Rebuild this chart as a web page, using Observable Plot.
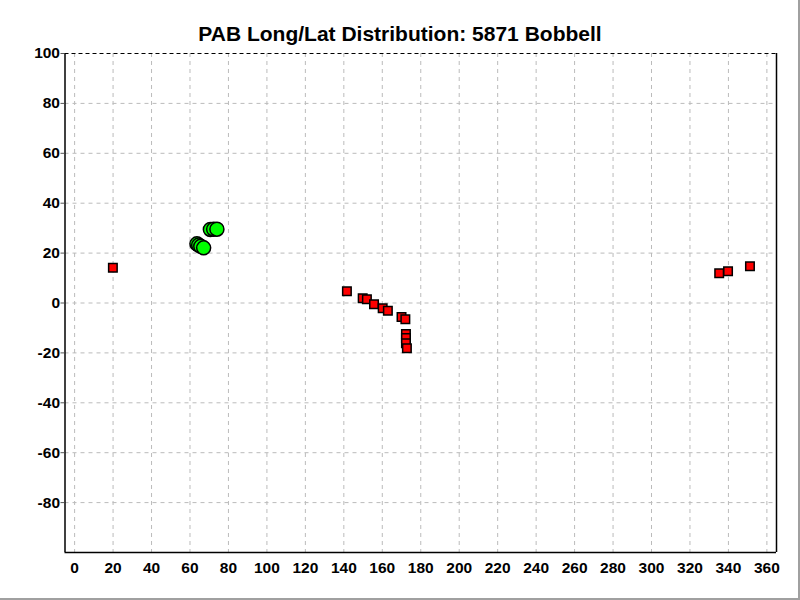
<!DOCTYPE html>
<html>
<head>
<meta charset="utf-8">
<script src="https://cdn.jsdelivr.net/npm/d3@7"></script>
<script src="https://cdn.jsdelivr.net/npm/@observablehq/plot@0.6"></script>
<style>
  html, body { margin: 0; padding: 0; background: #fff; }
  #wrap { position: relative; width: 800px; height: 600px; overflow: hidden; }
  #title { position: absolute; left: 0; top: 22px; width: 800px; text-align: center;
    font: bold 21px "Liberation Sans", Arial, sans-serif; color: #000; }
  #edgeR { position: absolute; right: 0; top: 0; width: 2px; height: 600px; background: #a0a0a0; }
  #edgeB { position: absolute; left: 0; bottom: 0; width: 800px; height: 2px; background: #a0a0a0; }
  svg { position: absolute; left: 0; top: 0; }
</style>
</head>
<body>
<div id="wrap">
  <div id="chart"></div>
  <div id="title">PAB Long/Lat Distribution: 5871 Bobbell</div>
  <div id="edgeR"></div>
  <div id="edgeB"></div>
</div>
<script>
// Green circles (longitude, latitude)
const greenLon = [63.6, 64.5, 65.6, 67.1, 70.6, 72.3, 74.0];
const greenLat = [23.7, 23.2, 22.7, 22.1, 29.5, 29.6, 29.6];
// Red squares (longitude, latitude)
const redLon = [19.9, 141.6, 149.8, 152.0, 155.7, 160.2, 162.9, 170.0, 172.0, 172.3, 172.3, 172.3, 172.8, 335.2, 339.8, 351.2];
const redLat = [14.1, 4.7, 1.9, 1.5, -0.5, -2.1, -3.1, -5.6, -6.5, -12.4, -14.0, -16.1, -18.1, 11.9, 12.7, 14.7];
const xTicks = [0,20,40,60,80,100,120,140,160,180,200,220,240,260,280,300,320,340,360];
const yTicks = [-80,-60,-40,-20,0,20,40,60,80,100];

const green = greenLon.map((x, i) => ({x, y: greenLat[i]}));
const red = redLon.map((x, i) => ({x, y: redLat[i]}));

const chart = Plot.plot({
  width: 800,
  height: 600,
  marginTop: 53,
  marginBottom: 48,
  marginLeft: 64.5,
  marginRight: 24,
  style: {fontFamily: '"Liberation Sans", Arial, sans-serif', fontSize: "15.5px", fontWeight: "bold", color: "#000", background: "#fff"},
  x: {domain: [-5, 365], ticks: xTicks, label: null},
  y: {domain: [-100, 100], ticks: yTicks, label: null},
  marks: [
    Plot.gridX(xTicks, {stroke: "#bbbbbb", strokeOpacity: 1, strokeDasharray: "4,4"}),
    Plot.gridY(yTicks.filter(d => d < 100), {stroke: "#bbbbbb", strokeOpacity: 1, strokeDasharray: "4,4"}),
    Plot.ruleY([100], {stroke: "#000", strokeDasharray: "4,3"}),
    Plot.ruleX([-5, 365], {stroke: "#000", strokeWidth: 1.5}),
    Plot.ruleY([-100], {stroke: "#000", strokeWidth: 1.5}),
    Plot.axisX(xTicks, {tickSize: 0, tickPadding: 9, fontSize: 15.5, fontWeight: "bold", fill: "#000", tickFormat: d => String(d)}),
    Plot.axisY(yTicks, {tickSize: 4, tickPadding: 1, stroke: "#555", fontSize: 15.5, fontWeight: "bold", fill: "#000", tickFormat: d => String(d)}),
    Plot.dot(red, {x: "x", y: "y", symbol: "square", r: 4.8, fill: "#ff0000", stroke: "#000", strokeWidth: 1.5}),
    Plot.dot(green, {x: "x", y: "y", r: 7, fill: "#00ff00", stroke: "#000", strokeWidth: 1.5})
  ]
});
document.getElementById("chart").appendChild(chart);
</script>
</body>
</html>
